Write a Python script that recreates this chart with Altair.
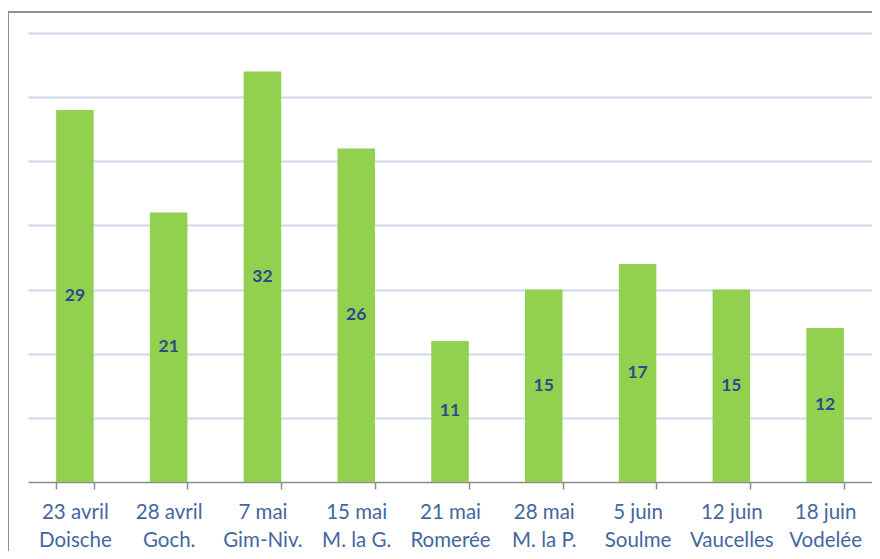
import altair as alt
import pandas as pd

dates = ["23 avril", "28 avril", "7 mai", "15 mai", "21 mai", "28 mai", "5 juin", "12 juin", "18 juin"]
places = ["Doische", "Goch.", "Gim-Niv.", "M. la G.", "Romerée", "M. la P.", "Soulme", "Vaucelles", "Vodelée"]
values = [29, 21, 32, 26, 11, 15, 17, 15, 12]
grid_values = [5, 10, 15, 20, 25, 30, 35]

cats = [f"{d}|{p}" for d, p in zip(dates, places)]
df = pd.DataFrame({"cat": cats, "value": values})

FONT = "Lato"

x_enc = alt.X(
    "cat:N",
    sort=cats,
    scale=alt.Scale(paddingInner=0.6, paddingOuter=0.3),
    axis=alt.Axis(
        title=None,
        labelAngle=0,
        labelExpr="split(datum.label, '|')",
        labelFont=FONT,
        labelFontSize=20.5,
        labelLineHeight=28,
        labelColor="#44679f",
        labelPadding=13,
        labelBaseline="top",
        tickBand="extent",
        tickSize=7,
        tickColor="#8c8c8c",
        tickWidth=1.5,
        domainColor="#8c8c8c",
        domainWidth=1.5,
        grid=False,
    ),
)

y_scale = alt.Scale(domain=[0, 35], nice=False)

border = alt.Chart(pd.DataFrame({"a": [0]})).mark_rect(
    fill="transparent", stroke="#8f8f8f", strokeWidth=2
).encode(
    x=alt.value(-20), x2=alt.value(1200), y=alt.value(-21), y2=alt.value(1200)
)

bars = alt.Chart(df).mark_bar(color="#92d050").encode(
    x=x_enc,
    y=alt.Y(
        "value:Q",
        scale=y_scale,
        axis=alt.Axis(
            title=None,
            labels=False,
            ticks=False,
            domain=False,
            grid=True,
            values=grid_values,
            gridColor="#ccdaec",
            gridWidth=2,
        ),
    ),
)

text = alt.Chart(df).transform_calculate(mid="datum.value / 2").mark_text(
    font=FONT, fontSize=17.5, fontWeight="bold", color="#2e4a8a", baseline="middle"
).encode(
    x=alt.X("cat:N", sort=cats),
    y=alt.Y("mid:Q", scale=y_scale),
    text="value:Q",
)

chart = alt.layer(border, bars, text).properties(
    width=844,
    height=449,
    autosize=alt.AutoSizeParams(type="none"),
    padding={"left": 20, "top": 25, "right": 0, "bottom": 69},
).configure_view(stroke=None)

chart.save("out.html", embed_options={"renderer": "svg", "actions": False})
